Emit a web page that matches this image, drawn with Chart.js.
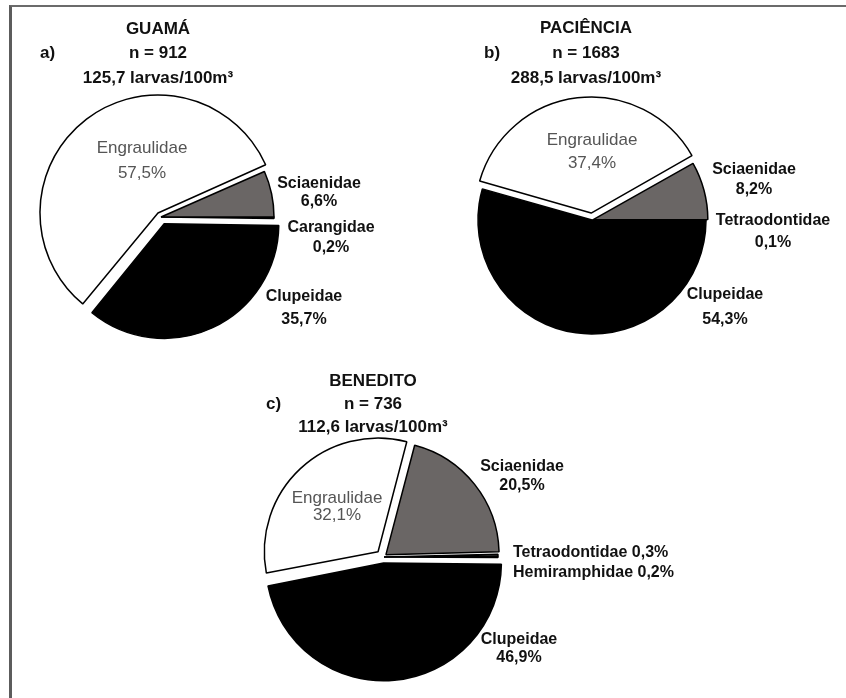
<!DOCTYPE html>
<html>
<head>
<meta charset="utf-8">
<script src="https://cdn.jsdelivr.net/npm/chart.js@4.4.1/dist/chart.umd.min.js"></script>
<style>
    html, body { margin: 0; padding: 0; background: #fff; overflow: hidden; }
    #page { position: relative; width: 846px; height: 698px; }
    #frame { position: absolute; left: 9px; top: 5px; right: 0; bottom: 0;
             border-top: 2px solid #6b6b6b; border-left: 3px solid #5c5c5c; }
    canvas { position: absolute; left: 0; top: 0; }
</style>
</head>
<body>
<div id="page">
    <div id="frame"></div>
    <canvas id="chart-guama" width="846" height="698"></canvas>
    <canvas id="chart-paciencia" width="846" height="698"></canvas>
    <canvas id="chart-benedito" width="846" height="698"></canvas>
</div>
<script>
// ===== DATA =====
const guamaFamilies = ['Carangidae', 'Clupeidae', 'Engraulidae', 'Sciaenidae'];
const guamaPercent = [0.2, 35.7, 57.5, 6.6];
const guamaHeader = ['GUAMÁ', 'n = 912', '125,7 larvas/100m³'];

const pacienciaFamilies = ['Tetraodontidae', 'Clupeidae', 'Engraulidae', 'Sciaenidae'];
const pacienciaPercent = [0.1, 54.3, 37.4, 8.2];
const pacienciaHeader = ['PACIÊNCIA', 'n = 1683', '288,5 larvas/100m³'];

const beneditoFamilies = ['Tetraodontidae', 'Hemiramphidae', 'Clupeidae', 'Engraulidae', 'Sciaenidae'];
const beneditoPercent = [0.3, 0.2, 46.9, 32.1, 20.5];
const beneditoHeader = ['BENEDITO', 'n = 736', '112,6 larvas/100m³'];

// ===== STYLE / LAYOUT =====
const PAGE_W = 846;
const PAGE_H = 698;
const FONT = '"Liberation Sans", Arial, Helvetica, sans-serif';

const FAMILY_COLORS = {
    Engraulidae: '#ffffff',
    Sciaenidae: '#6a6665',
    Clupeidae: '#000000'
};
const THIN_COLOR = '#eef2f2';

// pie centre, radius, start rotation, exploded offsets, label spots, header block
const guamaLayout = {
    cx: 161, cy: 217, radius: 113, rotation: 90,
    offsets: [0, 30, 20, 0],
    spots: [
        { dx: 170, dy: 11, gap: 20 },
        { dx: 143, dy: 80, gap: 23 },
        { dx: -19, dy: -69, gap: 25 },
        { dx: 158, dy: -33, gap: 18 }
    ],
    header: { x: 158, y: 29, gap: 24.5, panel: 'a)', panelX: 40 }
};

const pacienciaLayout = {
    cx: 592, cy: 220, radius: 114, rotation: 90,
    offsets: [0, 0, 28, 5],
    spots: [
        { dx: 181, dy: 1, gap: 22 },
        { dx: 133, dy: 75, gap: 25 },
        { dx: 0, dy: -80, gap: 23 },
        { dx: 162, dy: -50, gap: 20 }
    ],
    header: { x: 586, y: 28, gap: 25, panel: 'b)', panelX: 484 }
};

const beneditoLayout = {
    cx: 383, cy: 557, radius: 113, rotation: 88.5,
    offsets: [4, 4, 24, 29, 15],
    spots: [
        { dx: 130, dy: -4, inline: true },
        { dx: 130, dy: 16, inline: true },
        { dx: 136, dy: 83, gap: 18 },
        { dx: -46, dy: -59, gap: 17 },
        { dx: 139, dy: -90, gap: 19 }
    ],
    header: { x: 373, y: 381, gap: 23, panel: 'c)', panelX: 266 }
};

// ===== HELPERS =====
function formatPct(v) {
    return v.toFixed(1).replace('.', ',') + '%';
}

function paddingFor(cx, cy) {
    // centre the chart area on (cx, cy)
    const s = Math.min(cx, PAGE_W - cx, cy, PAGE_H - cy) - 2;
    return { left: cx - s, right: PAGE_W - cx - s, top: cy - s, bottom: PAGE_H - cy - s };
}

// ===== LABEL PLUGIN =====
const pieLabels = {
    id: 'pieLabels',
    afterDatasetsDraw(chart, args, opts) {
        const ctx = chart.ctx;
        const meta = chart.getDatasetMeta(0);
        const names = chart.data.labels;
        const values = chart.data.datasets[0].data;

        ctx.save();
        ctx.textBaseline = 'middle';

        meta.data.forEach((arc, i) => {
            const spot = opts.spots[i];
            const x = arc.x + spot.dx;
            const y = arc.y + spot.dy;
            const pct = formatPct(values[i]);

            if (names[i] === 'Engraulidae') {
                ctx.font = '17px ' + FONT;
                ctx.fillStyle = '#555555';
            } else {
                ctx.font = 'bold 16px ' + FONT;
                ctx.fillStyle = '#111111';
            }

            if (spot.inline) {
                ctx.textAlign = 'left';
                ctx.fillText(names[i] + ' ' + pct, x, y);
            } else {
                ctx.textAlign = 'center';
                ctx.fillText(names[i], x, y);
                ctx.fillText(pct, x, y + spot.gap);
            }
        });

        // header block
        const h = opts.header;
        ctx.font = 'bold 17px ' + FONT;
        ctx.fillStyle = '#111111';
        ctx.textAlign = 'center';
        opts.lines.forEach((t, k) => ctx.fillText(t, h.x, h.y + k * h.gap));
        ctx.textAlign = 'left';
        ctx.fillText(h.panel, h.panelX, h.y + h.gap);

        ctx.restore();
    }
};

// ===== CHARTS =====
function makePie(canvasId, families, percent, headerLines, layout) {
    const ctx = document.getElementById(canvasId);
    return new Chart(ctx, {
        type: 'pie',
        data: {
            labels: families,
            datasets: [{
                data: percent,
                backgroundColor: families.map(f => FAMILY_COLORS[f] || THIN_COLOR),
                borderColor: '#000000',
                borderWidth: 1.5,
                offset: layout.offsets,
                hoverOffset: 0
            }]
        },
        options: {
            responsive: false,
            animation: false,
            events: [],
            rotation: layout.rotation,
            radius: layout.radius,
            layout: { padding: paddingFor(layout.cx, layout.cy) },
            plugins: {
                legend: { display: false },
                tooltip: { enabled: false },
                pieLabels: { spots: layout.spots, header: layout.header, lines: headerLines }
            }
        },
        plugins: [pieLabels]
    });
}

makePie('chart-guama', guamaFamilies, guamaPercent, guamaHeader, guamaLayout);
makePie('chart-paciencia', pacienciaFamilies, pacienciaPercent, pacienciaHeader, pacienciaLayout);
makePie('chart-benedito', beneditoFamilies, beneditoPercent, beneditoHeader, beneditoLayout);
</script>
</body>
</html>
